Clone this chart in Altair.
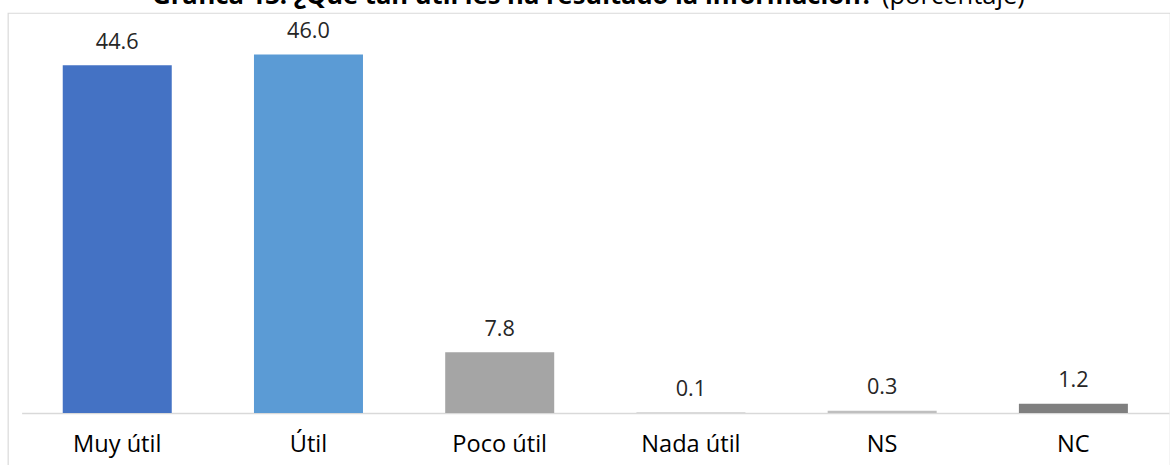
import altair as alt
import pandas as pd

# Survey answers and their shares (percent)
categories = ["Muy útil", "Útil", "Poco útil", "Nada útil", "NS", "NC"]
values = [44.6, 46.0, 7.8, 0.1, 0.3, 1.2]
bar_colors = ["#4472C4", "#5B9BD5", "#A5A5A5", "#D0D0D0", "#BFBFBF", "#7F7F7F"]

title_main = "Gráfica 13. ¿Qué tan útil les ha resultado la información?"
title_unit = "(porcentaje)"

FONT = "Open Sans"
W, H = 1182, 476          # view size; right and bottom edges run past the page
BASE = 407                # y of the zero line inside the view
PX_PER_UNIT = 7.93

df = pd.DataFrame({"cat": categories, "val": values})

x = alt.X(
    "cat:N",
    sort=categories,
    scale=alt.Scale(range=[14, 1181], paddingInner=0.43, paddingOuter=0.215),
    axis=alt.Axis(
        title=None,
        offset=BASE - H,
        domainColor="#D9D9D9",
        domainWidth=1.5,
        ticks=False,
        labelFont=FONT,
        labelFontSize=24,
        labelColor="#000000",
        labelPadding=20,
        labelAngle=0,
    ),
)
y = alt.Y(
    "val:Q",
    scale=alt.Scale(domain=[0, BASE / PX_PER_UNIT], range=[BASE, 0], nice=False, zero=True),
    axis=None,
)

base = alt.Chart(df)

bars = base.mark_bar().encode(
    x=x,
    y=y,
    color=alt.Color(
        "cat:N",
        scale=alt.Scale(domain=categories, range=bar_colors),
        legend=None,
    ),
)

labels = base.mark_text(
    baseline="alphabetic", dy=-17, font=FONT, fontSize=22, color="#262626"
).encode(x=x, y=y, text=alt.Text("val:Q", format=".1f"))

head_main = alt.Chart(pd.DataFrame({"t": [title_main]})).mark_text(
    align="right", baseline="alphabetic", font=FONT, fontSize=26,
    fontWeight="bold", color="#000000",
).encode(text="t:N", x=alt.value(880), y=alt.value(-9))

head_unit = alt.Chart(pd.DataFrame({"t": [title_unit]})).mark_text(
    align="left", baseline="alphabetic", font=FONT, fontSize=26,
    color="#000000",
).encode(text="t:N", x=alt.value(889), y=alt.value(-9))

chart = (
    alt.layer(bars, labels, head_main, head_unit)
    .properties(
        width=W,
        height=H,
        autosize=alt.AutoSizeParams(type="none"),
        padding={"left": 8, "top": 9, "right": 0, "bottom": 0},
        background="#FFFFFF",
    )
    .configure_view(stroke="#D9D9D9", strokeWidth=1.2)
)

chart.save("out.html", embed_options={"renderer": "svg", "actions": False})
